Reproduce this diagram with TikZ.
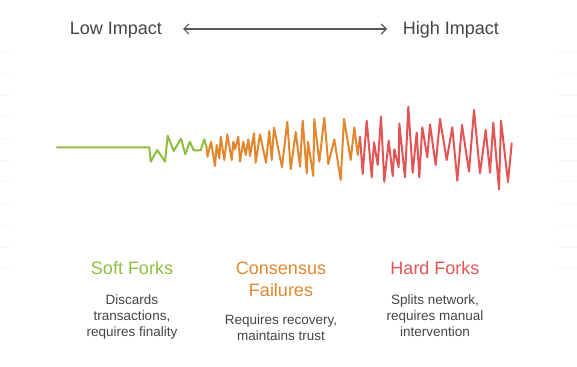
\documentclass[tikz,border=0pt]{standalone}
\usepackage{fontspec}
\setmainfont{Liberation Sans}
\usetikzlibrary{arrows.meta}

\definecolor{softc}{HTML}{8DBE3F}
\definecolor{failc}{HTML}{E2872E}
\definecolor{hardc}{HTML}{E35454}
\definecolor{inkc}{HTML}{444444}

\begin{document}
\begin{tikzpicture}[
  x=1pt, y=-1pt,
  scalelabel/.style={text=inkc, font=\fontsize{18}{21}\selectfont, inner sep=0pt, anchor=base},
  scalearrow/.style={draw=inkc!90, line width=1.2pt, {Straight Barb[length=5pt,width=10pt]}-{Straight Barb[length=5pt,width=10pt]}},
  title/.style={align=center, inner sep=0pt, font=\fontsize{18}{22}\selectfont},
  desc/.style={align=center, inner sep=0pt, text=inkc, font=\fontsize{13.5}{16}\selectfont},
  wave/.style={line width=2pt, line join=round, line cap=round},
  edgemark/.style={draw=black!3, line width=1pt}
]
  \useasboundingbox (0,0) rectangle (577,366);

  % faint ruler marks at the edges
  \foreach \k in {0,...,10} {
    \draw[edgemark] (0,{51.7+21.7*\k}) -- (12,{51.7+21.7*\k});
    \draw[edgemark] (555,{51.7+21.7*\k}) -- (577,{51.7+21.7*\k});
  }

  % impact scale
  \node[scalelabel] (low) at (116,35) {Low Impact};
  \node[scalelabel] (high) at (451,35) {High Impact};
  \coordinate (arrowL) at (183,29);
  \coordinate (arrowR) at (387,29);
  \draw[scalearrow] (arrowL) -- (arrowR);

  % signal
  \draw[wave, softc] plot coordinates {(57,147.3) (149.3,147.3) (150.7,161.7)
    (157.3,150) (165,161.7) (167.7,135.7) (173.7,151) (181,138.7) (185.3,154.3)
    (189.7,141.7) (193.7,150.3) (200.7,150.3) (204.3,139.3) (206.5,147)};
  \draw[wave, failc] plot coordinates {(206.5,147) (207.5,156.7) (211,141.7)
    (215,166) (216.7,145) (219.3,158.3) (220.7,136.7) (224.3,160) (227.3,134.3)
    (231.7,160) (233.3,141.7) (235,149.3) (238.3,136.7) (240,161.7) (243.3,141.7)
    (245.7,155) (248.3,139.3) (250,156) (254,133.3) (255.7,162.7) (260,134.3)
    (266,162.7) (269.3,131) (271.7,160) (274,127.7) (282,167.3) (287.3,121.7)
    (290.7,169.3) (295.7,132) (300,166.7) (302.7,120.7) (306.7,173.3) (308,141.7)
    (313.3,176) (314.3,119) (319.3,161.7) (324.3,117.7) (328.3,164) (334.3,139.3)
    (340.7,180) (344,119) (350.7,160) (354.3,127.3) (357.7,155) (360,136.7)};
  \draw[wave, hardc] plot coordinates {(360,136.7) (362.7,174) (366.7,120.7)
    (371.7,177.3) (374,142.3) (377.7,165) (381,116.7) (384.3,181.7) (388.7,140.7)
    (392.7,176) (394.3,149.3) (398.7,167.3) (399.3,123.3) (405,177.3) (408.3,106.7)
    (412.7,172.7) (416.7,132.7) (419.3,177.3) (422.3,127.3) (427.3,157.3)
    (430,124.3) (435.7,165) (440,119) (446.7,160) (452.3,127.3) (457.3,180.7)
    (462,125) (469,171.7) (474,110) (480,173.3) (485.7,130) (490,172.7)
    (493.3,122.7) (499,189.3) (501,120.7) (508,182) (511.7,143.3)};

  % categories
  \node[title, text=softc] (soft) at (132,268) {Soft Forks};
  \node[desc] (softdesc) at (132,317) {Discards\\transactions,\\requires finality};
  \node[title, text=failc] (fail) at (281,279) {Consensus\\Failures};
  \node[desc] (faildesc) at (281,328) {Requires recovery,\\maintains trust};
  \node[title, text=hardc] (hard) at (435,268) {Hard Forks};
  \node[desc] (harddesc) at (435,316) {Splits network,\\requires manual\\intervention};
\end{tikzpicture}
\end{document}
